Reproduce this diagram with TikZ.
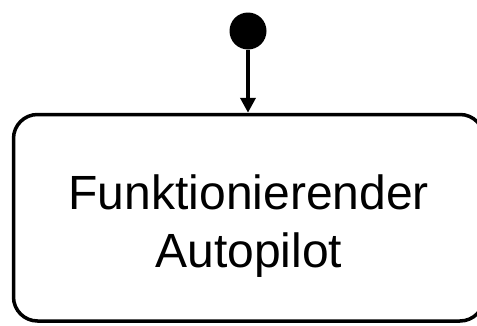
\documentclass[tikz,border=0pt]{standalone}
\usepackage{fontspec}
\setmainfont{Liberation Sans}
\usepackage{tikz}
\usetikzlibrary{arrows.meta, positioning, calc}
\tikzstyle{arrow} = [line width=4pt,-{Triangle[width=15pt,length=15pt]}]
\tikzstyle{initial} = [circle, fill=black, minimum size=37pt, inner sep=0pt]
\tikzstyle{statebox} = [draw, line width=3.5pt, rounded corners=24pt, minimum width=470.5pt, minimum height=206.5pt]

\begin{document}
\begin{tikzpicture}[x=1pt, y=1pt]
    \useasboundingbox (0,0) rectangle (477,325);

    % Initial state
    \node[initial] (start) at (248, 294) {};

    % State
    \node[statebox] (state) at (248.75, 107.25) {};
    \node[align=center, font=\fontsize{48}{58}\selectfont] (state_label) at ($(state.center)+(0,-8.5)$) {Funktionierender\\Autopilot};

    % Arrows
    \draw[arrow] (start) -- (start |- state.north);
\end{tikzpicture}
\end{document}
